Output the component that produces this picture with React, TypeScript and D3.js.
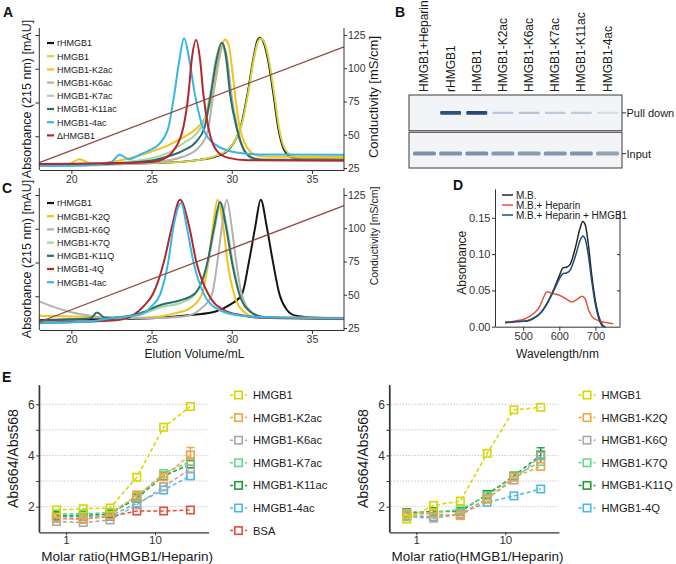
import React, { useEffect, useRef } from 'react';
import * as d3 from 'd3';

const FONT = '"Liberation Sans", Arial, Helvetica, sans-serif';

// ---------- A: elution profiles [mL, mAU]
const aRHMGB1 = [[18,16],[22,18],[26,22],[28,30],[29,40],[29.8,60],[30.3,95],[30.6,135],[31.0,230],[31.35,330],[31.6,383],[31.77,392],[31.95,383],[32.25,330],[32.6,225],[32.9,125],[33.3,57],[33.8,36],[34.5,33],[37,32]];
const aHMGB1 = [[18,15],[22,18],[26,22],[28,30],[29,42],[29.8,62],[30.3,95],[30.65,140],[31.05,235],[31.4,335],[31.65,382],[31.82,390],[32.0,382],[32.3,330],[32.65,225],[32.95,125],[33.35,60],[33.9,40],[34.5,37],[37,36]];
const aK2ac = [[18,15],[19.8,17],[20.5,32],[21.2,20],[22,21],[23,28],[24,40],[25,55],[26,72],[26.8,92],[27.5,112],[28.0,132],[28.5,172],[28.9,240],[29.23,330],[29.45,378],[29.59,387],[29.78,375],[30.0,310],[30.2,225],[30.5,126],[30.8,80],[31.1,57],[31.6,43],[32.5,39],[37,40]];
const aK6ac = [[18,12],[22,15],[25,22],[27,40],[28,70],[28.5,115],[28.85,225],[29.15,320],[29.45,366],[29.7,335],[29.98,225],[30.35,126],[30.85,50],[31.5,30],[37,28]];
const aK7ac = [[18,18],[22,20],[25,35],[26,50],[27,80],[27.8,108],[28.3,148],[28.65,225],[29.0,325],[29.33,372],[29.6,340],[29.92,225],[30.3,126],[30.8,55],[31.4,33],[37,30]];
const aK11ac = [[18,16],[22,18],[25,28],[26,40],[27,58],[27.8,85],[28.3,125],[28.7,225],[29.05,325],[29.38,377],[29.62,345],[29.9,225],[30.3,126],[30.8,57],[31.4,34],[32,30],[37,29]];
const a4ac = [[18,12],[21,14],[22.5,24],[23.0,45],[23.6,32],[24.3,46],[24.8,57],[25.5,78],[26.05,126],[26.42,225],[26.73,325],[27.03,390],[27.36,325],[27.7,225],[28.2,126],[28.95,76],[30.3,52],[32,46],[37,45]];
const aDelta = [[18,18],[22,20],[25,24],[25.8,34],[26.36,57],[26.98,126],[27.3,225],[27.5,325],[27.78,385],[28.03,325],[28.23,225],[28.54,126],[29.07,57],[29.8,36],[31,29],[37,28]];
const aCond = [[18,29],[37,116]];

// ---------- C: elution profiles [mL, mAU]
const cRHMGB1 = [[18,30],[22,32],[25,35],[27.6,45],[29.0,55],[29.9,75],[30.63,105],[31.08,204],[31.46,304],[31.81,386],[32.19,304],[32.56,204],[32.98,105],[33.43,60],[34,42],[35,37],[37,35]];
const cK2Q = [[18,42],[20,40],[22,38],[24,36],[25.5,40],[26.5,50],[27.4,65],[28.13,105],[28.55,204],[28.82,304],[29.11,386],[29.48,304],[29.73,204],[30.15,105],[30.73,55],[31.5,38],[37,36]];
const cK6Q = [[18,85],[18.8,70],[19.8,55],[20.8,45],[21.8,38],[23,35],[25,35],[27,40],[28,60],[28.76,105],[29.11,204],[29.38,304],[29.69,386],[30.0,304],[30.27,204],[30.63,105],[31.2,55],[32,38],[37,35]];
const cK7Q = [[18,20],[21,25],[23,30],[24.3,45],[25.6,68],[26.8,80],[27.7,105],[28.55,204],[28.95,304],[29.32,375],[29.7,304],[30.05,204],[30.52,105],[31.2,52],[32,36],[37,32]];
const cK11Q = [[18,28],[20,32],[21.2,35],[21.6,52],[22.1,36],[23,38],[24.3,50],[25.6,75],[26.8,88],[27.7,108],[28.5,204],[28.9,304],[29.27,379],[29.65,304],[30.0,204],[30.48,105],[31.14,55],[32,38],[37,34]];
const c4Q = [[18,22],[21,25],[23,30],[23.8,42],[24.6,75],[25.07,105],[25.78,204],[26.26,304],[26.78,386],[27.36,304],[27.78,204],[28.55,105],[29.48,60],[30.7,43],[32,36],[37,33]];
const c4ac = [[18,20],[21,25],[22.5,35],[23.5,40],[24.5,50],[25.0,70],[25.53,105],[26.05,204],[26.36,304],[26.85,376],[27.2,304],[27.6,204],[28.28,105],[29.2,60],[30.5,43],[32,38],[37,35]];
const cCond = [[18,29.5],[37,117]];

const elutionTicks = [20, 25, 30, 35];
const condTicks = [25, 50, 75, 100, 125];

// ---------- B: heparin pull-down gel
const laneLabels = ['HMGB1+Heparin', 'rHMGB1', 'HMGB1', 'HMGB1-K2ac', 'HMGB1-K6ac', 'HMGB1-K7ac', 'HMGB1-K11ac', 'HMGB1-4ac'];
const gelRows = ['Pull down', 'Input'];
const pullDownBand = [0, 0.9, 0.95, 0.22, 0.24, 0.2, 0.2, 0.1];
const inputBand = [0.72, 0.7, 0.72, 0.66, 0.64, 0.68, 0.7, 0.58];

// ---------- D: absorbance spectra [nm, abs]
const dMB = [[450,0.006],[480,0.007],[510,0.008],[530,0.012],[550,0.02],[570,0.036],[585,0.052],[600,0.07],[610,0.081],[620,0.082],[630,0.086],[645,0.11],[657,0.135],[665,0.145],[672,0.14],[680,0.115],[690,0.07],[700,0.035],[710,0.013],[720,0.002],[725,0.0]];
const dHep = [[450,0.006],[480,0.008],[500,0.01],[520,0.015],[535,0.021],[546,0.028],[556,0.04],[566,0.048],[580,0.046],[602,0.043],[620,0.038],[635,0.034],[650,0.038],[663,0.042],[672,0.038],[681,0.023],[692,0.013],[705,0.009],[725,0.006],[750,0.004]];
const dHepHMGB1 = [[450,0.005],[480,0.007],[510,0.008],[530,0.012],[550,0.02],[570,0.035],[585,0.05],[600,0.066],[610,0.073],[620,0.074],[630,0.078],[645,0.098],[657,0.118],[665,0.125],[672,0.12],[680,0.1],[690,0.062],[700,0.03],[710,0.01],[720,0.001],[728,0.0]];
const dLegend = ['M.B.', 'M.B.+ Heparin', 'M.B.+ Heparin + HMGB1'];

// ---------- E: Abs664/Abs568 vs molar ratio
const molarRatio = [0.78125, 1.5625, 3.125, 6.25, 12.5, 25];
const eL_HMGB1 = [1.87, 1.92, 1.95, 3.15, 5.10, 5.91];
const eL_K2ac = [1.55, 1.50, 1.66, 2.46, 3.17, 4.02];
const eL_K6ac = [1.42, 1.38, 1.48, 2.07, 2.78, 3.47];
const eL_K7ac = [1.72, 1.72, 1.77, 2.39, 3.30, 3.76];
const eL_K11ac = [1.66, 1.66, 1.72, 2.33, 3.20, 3.66];
const eL_4ac = [1.61, 1.61, 1.64, 2.13, 2.65, 3.20];
const eL_BSA = [1.55, 1.52, 1.62, 1.83, 1.83, 1.87];
const eL_K2acErr = [0.05, 0.05, 0.05, 0.1, 0.12, 0.29];

const eR_HMGB1 = [1.52, 2.05, 2.22, 4.08, 5.78, 5.88];
const eR_K2Q = [1.74, 1.72, 1.65, 2.29, 3.15, 3.57];
const eR_K6Q = [1.61, 1.55, 1.70, 2.33, 3.04, 3.98];
const eR_K7Q = [1.68, 1.77, 1.90, 2.42, 3.17, 3.76];
const eR_K11Q = [1.77, 1.81, 1.81, 2.48, 3.20, 4.02];
const eR_4Q = [1.65, 1.61, 1.72, 2.17, 2.42, 2.69];
const eR_K11QErr = [0.05, 0.05, 0.05, 0.08, 0.1, 0.28];

const eTicks = [2, 3, 4, 5, 6];

function styleAxis(sel, size) {
  sel.attr('font-family', FONT).attr('font-size', size).attr('color', '#333');
}

function txt(g, s, x, y, size, opt: any = {}) {
  const t = g.append('text').attr('x', x).attr('y', y).attr('font-size', size)
    .attr('fill', opt.fill || '#1a1a1a').text(s);
  if (opt.anchor) t.attr('text-anchor', opt.anchor);
  if (opt.rotate) t.attr('transform', `rotate(${opt.rotate},${x},${y})`);
  if (opt.bold) t.attr('font-weight', 'bold');
  return t;
}

function drawElution(svg, top, series, cond, condTitleSize, condTitleY) {
  const bottom = top + 142;
  const x = d3.scaleLinear().domain([18, 37]).range([39.3, 344]);
  const yAbs = d3.scaleLinear().domain([0, 400]).range([bottom, top + 7]);
  const yCond = d3.scaleLinear().domain([25, 125]).range([top + 140, top + 7]);
  const g = svg.append('g');
  const [x0, x1] = x.range();

  const line = d3.line().x(d => x(d[0])).y(d => yAbs(d[1])).curve(d3.curveMonotoneX);
  series.forEach(s => {
    g.append('path').datum(s.values).attr('d', line).attr('fill', 'none')
      .attr('stroke', s.color).attr('stroke-width', 2).attr('stroke-linejoin', 'round');
  });
  const cl = d3.line().x(d => x(d[0])).y(d => yCond(d[1]));
  g.append('path').datum(cond).attr('d', cl).attr('fill', 'none')
    .attr('stroke', '#8c4a40').attr('stroke-width', 1.3);

  const xa = g.append('g').attr('transform', `translate(0,${bottom})`)
    .call(d3.axisBottom(x).tickValues(elutionTicks).tickSize(4).tickSizeOuter(0).tickPadding(2));
  styleAxis(xa, 10.5);

  const la = g.append('g').attr('transform', `translate(${x0},0)`)
    .call(d3.axisLeft(yAbs).tickValues([100, 200, 300, 400]).tickFormat(() => '').tickSize(4).tickSizeOuter(0));
  la.select('.domain').remove();
  styleAxis(la, 10);
  g.append('line').attr('x1', x0).attr('x2', x0).attr('y1', top).attr('y2', bottom).attr('stroke', '#333');

  const ra = g.append('g').attr('transform', `translate(${x1},0)`)
    .call(d3.axisRight(yCond).tickValues(condTicks).tickSize(3).tickSizeOuter(0).tickPadding(1));
  ra.select('.domain').remove();
  styleAxis(ra, 10.5);
  g.append('line').attr('x1', x1).attr('x2', x1).attr('y1', top).attr('y2', bottom).attr('stroke', '#333');

  // legend
  series.forEach((s, i) => {
    const ly = top + 15 + i * 13.2;
    g.append('line').attr('x1', 47).attr('x2', 54).attr('y1', ly).attr('y2', ly)
      .attr('stroke', s.color).attr('stroke-width', 2.2);
    txt(g, s.name, 57, ly + 3.3, 9);
  });

  txt(g, 'Absorbance (215 nm) [mAU]', 31, (top + bottom) / 2, 12.5, { anchor: 'middle', rotate: -90 });
  txt(g, 'Conductivity [mS/cm]', 377.5, condTitleY, condTitleSize, { anchor: 'middle', rotate: -90 });
}

function drawGel(svg) {
  const g = svg.append('g');
  const lane = d3.scaleBand().domain(laneLabels).range([414, 618]).paddingInner(0.2);
  const row = d3.scaleBand().domain(gelRows).range([95, 168]).paddingInner(0.04);
  const defs = g.append('defs');
  defs.append('filter').attr('id', 'bandBlur').attr('x', '-20%').attr('y', '-100%').attr('width', '140%').attr('height', '300%')
    .append('feGaussianBlur').attr('stdDeviation', 0.7);

  gelRows.forEach(r => {
    g.append('rect').attr('x', 409).attr('width', 213).attr('y', row(r)).attr('height', row.bandwidth())
      .attr('fill', '#f2f4f8').attr('stroke', '#3a3a3a').attr('stroke-width', 1);
  });

  const pullCol = d3.interpolateRgb('#e9edf3', '#17426f');
  const inCol = d3.interpolateRgb('#eef0f4', '#4f6c8c');
  laneLabels.forEach((l, i) => {
    const bx = lane(l);
    const bw = lane.bandwidth();
    if (pullDownBand[i] > 0) {
      const h = 2 + pullDownBand[i] * 2;
      g.append('rect').attr('x', bx).attr('width', bw).attr('y', row('Pull down') + row.bandwidth() / 2 - h / 2)
        .attr('height', h).attr('rx', 1).attr('fill', pullCol(pullDownBand[i])).attr('filter', 'url(#bandBlur)');
    }
    const h2 = 4;
    g.append('rect').attr('x', bx - 1).attr('width', bw + 2).attr('y', row('Input') + row.bandwidth() / 2 + 3.5 - h2 / 2)
      .attr('height', h2).attr('rx', 1.5).attr('fill', inCol(inputBand[i])).attr('filter', 'url(#bandBlur)');
    const cx = bx + bw / 2 + 4;
    txt(g, l, cx, 92, 12, { rotate: -90 });
  });

  gelRows.forEach((r, i) => {
    const cy = row(r) + row.bandwidth() / 2 + (i === 1 ? 3.5 : 0);
    g.append('line').attr('x1', 622).attr('x2', 626).attr('y1', cy).attr('y2', cy).attr('stroke', '#333');
    txt(g, r, 626.5, cy + 4, 11);
  });
}

function drawSpectra(svg) {
  const g = svg.append('g');
  const x = d3.scaleLinear().domain([422, 768]).range([495, 620]);
  const y = d3.scaleLinear().domain([0, 0.19]).range([326.7, 188.8]);
  const [x0, x1] = x.range();
  const line = d3.line().x(d => x(d[0])).y(d => y(d[1])).curve(d3.curveMonotoneX);
  const series = [
    { name: dLegend[0], color: '#262626', values: dMB },
    { name: dLegend[1], color: '#e4553a', values: dHep },
    { name: dLegend[2], color: '#1f4c7a', values: dHepHMGB1 },
  ];
  series.forEach(s => {
    g.append('path').datum(s.values).attr('d', line).attr('fill', 'none')
      .attr('stroke', s.color).attr('stroke-width', 1.5);
  });

  const xa = g.append('g').attr('transform', `translate(0,${y(0)})`)
    .call(d3.axisBottom(x).tickValues([500, 600, 700]).tickSize(4).tickSizeOuter(0).tickPadding(2));
  styleAxis(xa, 11);
  const ya = g.append('g').attr('transform', `translate(${x0},0)`)
    .call(d3.axisLeft(y).tickValues([0, 0.05, 0.1, 0.15]).tickFormat(d3.format('.2f')).tickSize(3).tickSizeOuter(0).tickPadding(1.5));
  styleAxis(ya, 11);
  const ra = g.append('g').attr('transform', `translate(${x1},0)`)
    .call(d3.axisLeft(y).tickValues([0.05, 0.1, 0.15]).tickFormat(() => '').tickSize(3).tickSizeOuter(0));
  ra.select('.domain').remove();
  styleAxis(ra, 11);
  g.append('line').attr('x1', x1).attr('x2', x1).attr('y1', y(0.16)).attr('y2', y(0)).attr('stroke', '#333');

  series.forEach((s, i) => {
    const ly = 195 + i * 10;
    g.append('line').attr('x1', 502).attr('x2', 513).attr('y1', ly).attr('y2', ly)
      .attr('stroke', s.color).attr('stroke-width', 1.5);
    txt(g, s.name, 516, ly + 3.5, 10);
  });

  txt(g, 'Absorbance', 466, (y(0) + y(0.19)) / 2 + 5, 12, { anchor: 'middle', rotate: -90 });
  txt(g, 'Wavelength/nm', (x0 + x1) / 2, 357.5, 12, { anchor: 'middle' });
}

function drawRatio(svg, xStart, series, legendX) {
  const g = svg.append('g');
  const x = d3.scaleLog().domain([0.5, 40]).range([xStart, xStart + 169.4]);
  const y = d3.scaleLinear().domain([1, 6.75]).range([532.3, 385]);
  const [x0, x1] = x.range();

  eTicks.forEach(t => {
    g.append('line').attr('x1', x0 + 1).attr('x2', x1).attr('y1', y(t)).attr('y2', y(t))
      .attr('stroke', '#c9c9d2').attr('stroke-width', 1).attr('stroke-dasharray', '1.5,1.5');
  });

  const line = d3.line().x((d, i) => x(molarRatio[i])).y(d => y(d));
  const drawOrder = series.slice().reverse();
  drawOrder.forEach(s => {
    g.append('path').datum(s.values).attr('d', line).attr('fill', 'none')
      .attr('stroke', s.color).attr('stroke-width', 1.5).attr('stroke-dasharray', '4,2.5');
    if (s.err) {
      s.values.forEach((v, i) => {
        const cx = x(molarRatio[i]);
        g.append('line').attr('x1', cx).attr('x2', cx).attr('y1', y(v - s.err[i])).attr('y2', y(v + s.err[i]))
          .attr('stroke', s.color).attr('stroke-width', 1.4);
        g.append('line').attr('x1', cx - 4).attr('x2', cx + 4).attr('y1', y(v + s.err[i])).attr('y2', y(v + s.err[i]))
          .attr('stroke', s.color).attr('stroke-width', 1.4);
      });
    }
    g.selectAll(null).data(s.values).enter().append('rect')
      .attr('x', (d, i) => x(molarRatio[i]) - 3.7).attr('y', d => y(d) - 3.7)
      .attr('width', 7.4).attr('height', 7.4).attr('fill', 'none')
      .attr('stroke', s.color).attr('stroke-width', 1.6);
  });

  const xa = g.append('g').attr('transform', `translate(0,${y(1)})`)
    .call(d3.axisBottom(x).tickValues([1, 10]).tickFormat(d3.format('d')).tickSize(3).tickSizeOuter(0).tickPadding(1));
  styleAxis(xa, 11.5);
  xa.select('.domain').attr('stroke-width', 1.2);
  const ya = g.append('g').attr('transform', `translate(${x0},0)`)
    .call(d3.axisLeft(y).tickValues(eTicks).tickFormat(d => (d % 2 === 0 ? d : '')).tickSize(3).tickSizeOuter(0).tickPadding(1.5));
  styleAxis(ya, 12);
  ya.select('.domain').attr('stroke-width', 1.2);
  g.append('line').attr('x1', x0).attr('x2', x0).attr('y1', y(6.75)).attr('y2', y(1)).attr('stroke', '#333').attr('stroke-width', 1.2);

  series.forEach((s, i) => {
    const ly = 395 + i * 22.6;
    g.append('line').attr('x1', legendX - 8.5).attr('x2', legendX + 8.5).attr('y1', ly).attr('y2', ly)
      .attr('stroke', s.color).attr('stroke-width', 1.5).attr('stroke-dasharray', '3,2');
    g.append('rect').attr('x', legendX - 3.7).attr('y', ly - 3.7).attr('width', 7.4).attr('height', 7.4)
      .attr('fill', '#fff').attr('stroke', s.color).attr('stroke-width', 1.6);
    txt(g, s.name, legendX + 14.5, ly + 4, 11.2);
  });

  txt(g, 'Abs664/Abs568', x0 - 21, (y(1) + y(6.75)) / 2, 14, { anchor: 'middle', rotate: -90 });
  txt(g, 'Molar ratio(HMGB1/Heparin)', x0 + 88, 560.5, 13.5, { anchor: 'middle' });
}

const C_HMGB1 = '#d6d600';
const C_K2 = '#f2a444';
const C_K6 = '#a9a9a9';
const C_K7 = '#62d98c';
const C_K11 = '#1f9d35';
const C_4 = '#4db6ea';
const C_BSA = '#e0503a';

export default function App() {
  const ref = useRef<SVGSVGElement | null>(null);

  useEffect(() => {
    const svg = d3.select(ref.current);
    svg.selectAll('*').remove();
    svg.attr('font-family', FONT);

    drawElution(svg, 28, [
      { name: 'rHMGB1', color: '#141414', values: aRHMGB1 },
      { name: 'HMGB1', color: '#d3d63c', values: aHMGB1 },
      { name: 'HMGB1-K2ac', color: '#f5c21c', values: aK2ac },
      { name: 'HMGB1-K6ac', color: '#b2b2b2', values: aK6ac },
      { name: 'HMGB1-K7ac', color: '#a3d7a5', values: aK7ac },
      { name: 'HMGB1-K11ac', color: '#2d6d67', values: aK11ac },
      { name: 'HMGB1-4ac', color: '#38b6e8', values: a4ac },
      { name: '\u0394HMGB1', color: '#b3282c', values: aDelta },
    ], aCond, 13, 97);

    drawElution(svg, 188, [
      { name: 'rHMGB1', color: '#141414', values: cRHMGB1 },
      { name: 'HMGB1-K2Q', color: '#f5c21c', values: cK2Q },
      { name: 'HMGB1-K6Q', color: '#b2b2b2', values: cK6Q },
      { name: 'HMGB1-K7Q', color: '#a3d7a5', values: cK7Q },
      { name: 'HMGB1-K11Q', color: '#2d6d67', values: cK11Q },
      { name: 'HMGB1-4Q', color: '#b3282c', values: c4Q },
      { name: 'HMGB1-4ac', color: '#38b6e8', values: c4ac },
    ], cCond, 10.5, 236);

    svg.append('text').attr('x', 194.5).attr('y', 357.5).attr('font-size', 12).attr('text-anchor', 'middle')
      .attr('fill', '#1a1a1a').text('Elution Volume/mL');

    drawGel(svg);
    drawSpectra(svg);

    drawRatio(svg, 39.2, [
      { name: 'HMGB1', color: C_HMGB1, values: eL_HMGB1 },
      { name: 'HMGB1-K2ac', color: C_K2, values: eL_K2ac, err: eL_K2acErr },
      { name: 'HMGB1-K6ac', color: C_K6, values: eL_K6ac },
      { name: 'HMGB1-K7ac', color: C_K7, values: eL_K7ac },
      { name: 'HMGB1-K11ac', color: C_K11, values: eL_K11ac },
      { name: 'HMGB1-4ac', color: C_4, values: eL_4ac },
      { name: 'BSA', color: C_BSA, values: eL_BSA },
    ], 238.5);

    drawRatio(svg, 389.5, [
      { name: 'HMGB1', color: C_HMGB1, values: eR_HMGB1 },
      { name: 'HMGB1-K2Q', color: C_K2, values: eR_K2Q },
      { name: 'HMGB1-K6Q', color: C_K6, values: eR_K6Q },
      { name: 'HMGB1-K7Q', color: C_K7, values: eR_K7Q },
      { name: 'HMGB1-K11Q', color: C_K11, values: eR_K11Q, err: eR_K11QErr },
      { name: 'HMGB1-4Q', color: C_4, values: eR_4Q },
    ], 587);

    // panel letters
    [['A', 3, 17], ['B', 395, 17], ['C', 2, 193], ['D', 453, 190], ['E', 2, 382]].forEach(([l, lx, ly]) => {
      svg.append('text').attr('x', lx).attr('y', ly).attr('font-size', 14).attr('font-weight', 'bold')
        .attr('fill', '#111').text(l);
    });
  }, []);

  return (
    <div style={{ position: 'absolute', left: 0, top: 0 }}>
      <svg ref={ref} width={676} height={564} style={{ display: 'block', background: '#fff' }} />
    </div>
  );
}
